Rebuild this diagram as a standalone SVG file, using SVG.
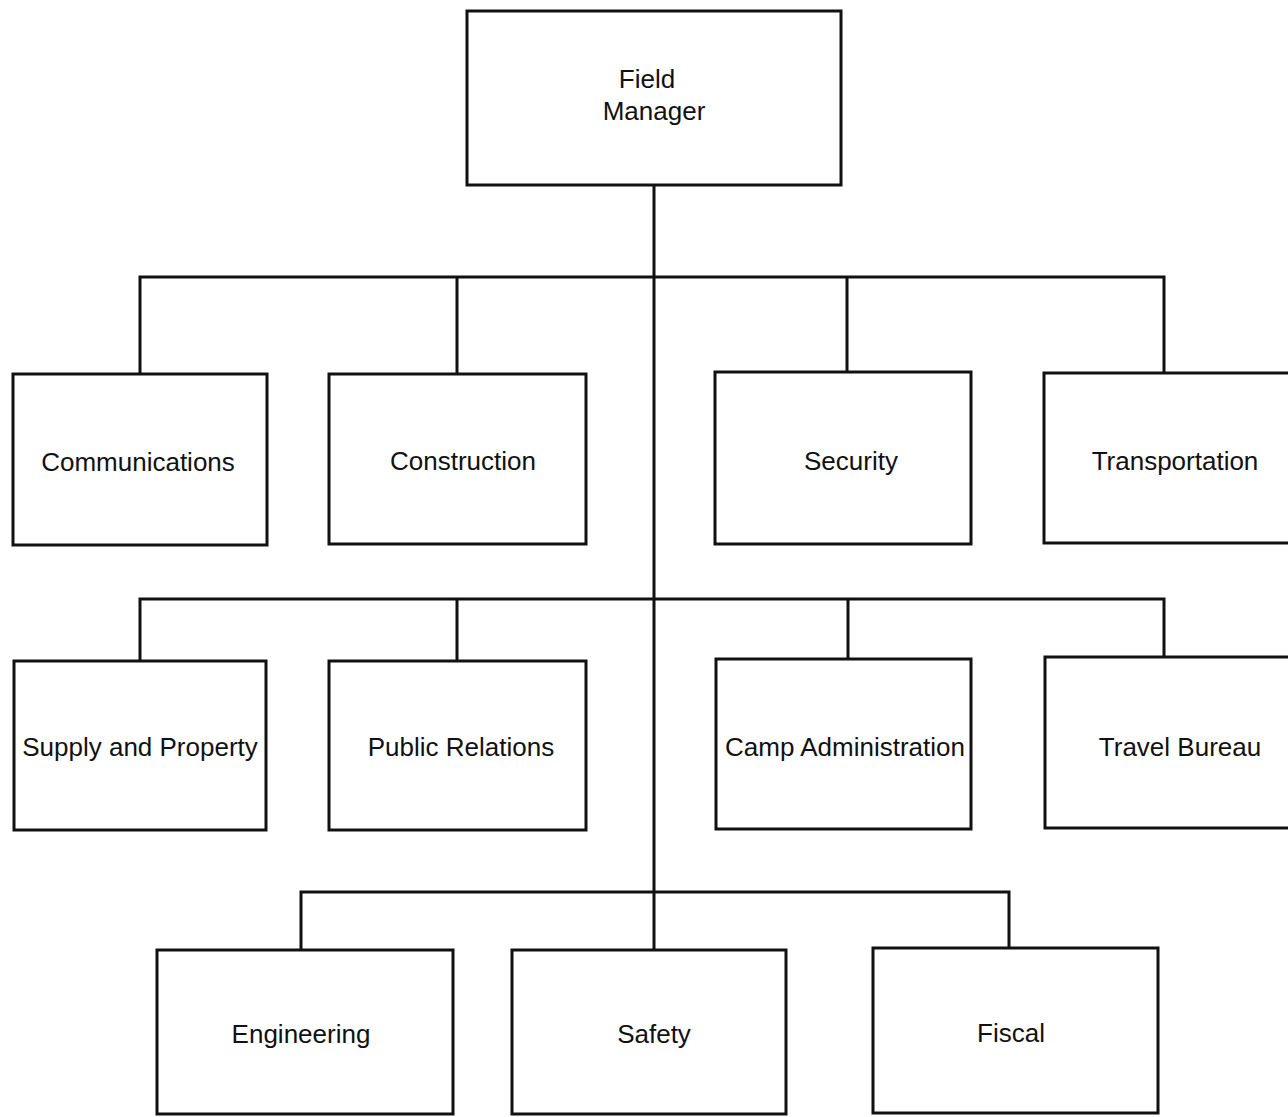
<svg xmlns="http://www.w3.org/2000/svg" width="1288" height="1117" viewBox="0 0 1288 1117">
<style>
.box{fill:#fff;stroke:#111;stroke-width:3}
.lbl{font-family:"Liberation Sans",Arial,sans-serif;font-size:26px;fill:#111;text-anchor:middle}
.conn{fill:none;stroke:#111;stroke-width:3}
</style>
<rect width="1288" height="1117" fill="#fff"/>
<g id="connectors" class="conn">
<path d="M654 185V950"/>
<path d="M140 374V277H1164V374"/>
<path d="M457 277V374M847 277V372"/>
<path d="M140 661V599H1164V657"/>
<path d="M457 599V661M848 599V659"/>
<path d="M301 950V892H1009V948"/>
</g>
<g id="field-manager"><rect class="box" x="467" y="11" width="374" height="174"/><text class="lbl" x="647" y="88">Field</text><text class="lbl" x="654" y="120">Manager</text></g>
<g id="communications"><rect class="box" x="13" y="374" width="254" height="171"/><text class="lbl" x="138" y="471">Communications</text></g>
<g id="construction"><rect class="box" x="329" y="374" width="257" height="170"/><text class="lbl" x="463" y="470">Construction</text></g>
<g id="security"><rect class="box" x="715" y="372" width="256" height="172"/><text class="lbl" x="851" y="470">Security</text></g>
<g id="transportation"><rect class="box" x="1044" y="373" width="260" height="170"/><text class="lbl" x="1175" y="470">Transportation</text></g>
<g id="supply-and-property"><rect class="box" x="14" y="661" width="252" height="169"/><text class="lbl" x="140" y="756">Supply and Property</text></g>
<g id="public-relations"><rect class="box" x="329" y="661" width="257" height="169"/><text class="lbl" x="461" y="756">Public Relations</text></g>
<g id="camp-administration"><rect class="box" x="716" y="659" width="255" height="170"/><text class="lbl" x="845" y="756">Camp Administration</text></g>
<g id="travel-bureau"><rect class="box" x="1045" y="657" width="260" height="171"/><text class="lbl" x="1180" y="756">Travel Bureau</text></g>
<g id="engineering"><rect class="box" x="157" y="950" width="296" height="164"/><text class="lbl" x="301" y="1043">Engineering</text></g>
<g id="safety"><rect class="box" x="512" y="950" width="274" height="164"/><text class="lbl" x="654" y="1043">Safety</text></g>
<g id="fiscal"><rect class="box" x="873" y="948" width="285" height="165"/><text class="lbl" x="1011" y="1042">Fiscal</text></g>
</svg>
